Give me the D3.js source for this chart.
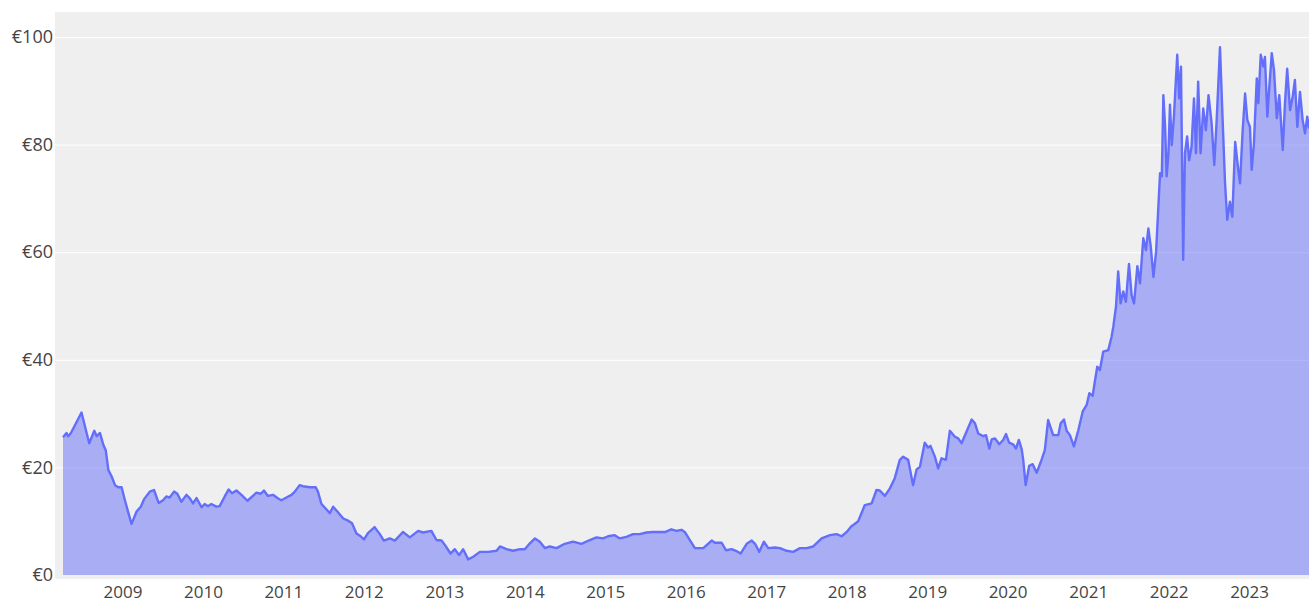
<!DOCTYPE html>
<html lang="en">
<head>
<meta charset="UTF-8">
<title>Price</title>
<script src="https://cdn.jsdelivr.net/npm/d3@7"></script>
<style>
  body { margin: 0; background: #fff; }
  svg { display: block; }
</style>
</head>
<body>
<div id="chart"></div>
<script>
// weekly-ish closing price
var dates = [
  "2008-04-06","2008-04-22","2008-04-29","2008-05-12","2008-06-29","2008-08-03","2008-08-26","2008-09-06","2008-09-21","2008-10-06",
  "2008-10-17","2008-10-29","2008-11-13","2008-11-28","2008-12-13","2008-12-28","2009-01-12","2009-01-24","2009-02-11","2009-03-06",
  "2009-03-25","2009-04-09","2009-05-05","2009-05-24","2009-06-14","2009-07-04","2009-07-19","2009-08-03","2009-08-23","2009-09-07",
  "2009-09-25","2009-10-18","2009-11-02","2009-11-17","2009-12-03","2009-12-26","2010-01-09","2010-01-24","2010-02-08","2010-03-03",
  "2010-03-18","2010-04-10","2010-04-28","2010-05-13","2010-06-02","2010-06-25","2010-07-22","2010-08-16","2010-09-01","2010-09-20",
  "2010-10-05","2010-10-23","2010-11-15","2010-12-05","2010-12-23","2011-01-15","2011-02-07","2011-02-22","2011-03-16","2011-03-31",
  "2011-05-01","2011-05-28","2011-06-07","2011-06-23","2011-07-11","2011-07-31","2011-08-15","2011-09-07","2011-09-30","2011-10-22",
  "2011-11-09","2011-11-29","2011-12-18","2012-01-02","2012-01-20","2012-02-19","2012-03-14","2012-04-01","2012-04-28","2012-05-21",
  "2012-06-27","2012-07-28","2012-09-04","2012-09-26","2012-11-03","2012-11-26","2012-12-19","2013-01-03","2013-01-29","2013-02-17",
  "2013-03-09","2013-03-27","2013-04-19","2013-05-12","2013-06-11","2013-07-19","2013-08-26","2013-09-10","2013-10-10","2013-11-09",
  "2013-12-10","2014-01-01","2014-01-24","2014-02-16","2014-03-10","2014-04-02","2014-04-24","2014-05-25","2014-07-01","2014-08-08",
  "2014-09-15","2014-10-23","2014-11-22","2014-12-22","2015-01-14","2015-02-13","2015-03-08","2015-04-07","2015-05-07","2015-06-06",
  "2015-07-07","2015-08-06","2015-09-05","2015-10-02","2015-10-28","2015-11-20","2015-12-13","2015-12-28","2016-01-20","2016-02-12",
  "2016-03-21","2016-04-28","2016-05-13","2016-06-12","2016-07-02","2016-07-28","2016-08-16","2016-09-07","2016-10-04","2016-10-27",
  "2016-11-11","2016-11-30","2016-12-21","2017-01-10","2017-02-09","2017-03-04","2017-04-03","2017-05-03","2017-06-03","2017-07-03",
  "2017-08-02","2017-09-09","2017-10-17","2017-11-16","2017-12-09","2018-01-01","2018-01-23","2018-01-31","2018-02-22","2018-03-24",
  "2018-04-24","2018-05-16","2018-05-31","2018-06-23","2018-07-16","2018-08-07","2018-08-30","2018-09-14","2018-10-07","2018-10-29",
  "2018-11-14","2018-11-29","2018-12-21","2019-01-05","2019-01-16","2019-02-05","2019-02-20","2019-03-07","2019-03-27","2019-04-14",
  "2019-05-07","2019-05-22","2019-06-06","2019-06-26","2019-07-22","2019-08-06","2019-08-21","2019-09-13","2019-09-25","2019-10-10",
  "2019-10-21","2019-11-05","2019-11-24","2019-12-12","2019-12-25","2020-01-08","2020-01-26","2020-02-08","2020-02-21","2020-03-05",
  "2020-03-12","2020-03-23","2020-04-08","2020-04-24","2020-05-12","2020-06-03","2020-06-18","2020-07-03","2020-07-26","2020-08-18",
  "2020-08-29","2020-09-13","2020-09-25","2020-10-10","2020-10-28","2020-11-17","2020-12-07","2020-12-25","2021-01-06","2021-01-21",
  "2021-02-01","2021-02-11","2021-02-23","2021-03-10","2021-04-02","2021-04-17","2021-04-25","2021-05-07","2021-05-17","2021-05-28",
  "2021-06-09","2021-06-21","2021-07-05","2021-07-17","2021-07-28","2021-08-12","2021-08-24","2021-09-08","2021-09-20","2021-10-01",
  "2021-10-12","2021-10-24","2021-11-05","2021-11-23","2021-12-01","2021-12-08","2021-12-16","2021-12-23","2021-12-31","2022-01-07",
  "2022-01-15","2022-01-25","2022-02-09","2022-02-18","2022-02-26","2022-03-08","2022-03-16","2022-03-26","2022-04-04","2022-04-15",
  "2022-04-26","2022-05-05","2022-05-15","2022-05-26","2022-06-07","2022-06-19","2022-07-01","2022-07-15","2022-07-27","2022-08-07",
  "2022-08-22","2022-09-03","2022-09-14","2022-09-24","2022-10-06","2022-10-17","2022-10-30","2022-11-13","2022-11-21","2022-12-03",
  "2022-12-14","2022-12-24","2023-01-05","2023-01-13","2023-01-23","2023-02-05","2023-02-12","2023-02-23","2023-03-07","2023-03-14",
  "2023-03-25","2023-04-03","2023-04-14","2023-04-24","2023-05-07","2023-05-18","2023-06-03","2023-06-13","2023-06-23","2023-07-06",
  "2023-07-18","2023-07-28","2023-08-08","2023-08-20","2023-09-01","2023-09-12","2023-09-22","2023-09-30"
];

var prices = [
  25.6,26.4,25.8,26.4,30.2,24.5,26.8,25.8,26.4,24.2,
  23.2,19.5,18.3,16.7,16.3,16.3,13.9,12.1,9.5,11.8,
  12.7,14.1,15.5,15.8,13.4,13.9,14.6,14.4,15.5,15.1,
  13.6,14.9,14.3,13.3,14.3,12.6,13.2,12.8,13.2,12.7,
  12.8,14.6,15.9,15.2,15.7,14.9,13.8,14.7,15.3,15.1,
  15.7,14.7,14.9,14.3,13.9,14.4,14.9,15.5,16.7,16.5,
  16.3,16.3,15.5,13.2,12.4,11.5,12.7,11.6,10.5,10.1,
  9.6,7.7,7.2,6.6,7.8,8.9,7.6,6.4,6.8,6.4,
  8.0,7.0,8.2,7.9,8.2,6.5,6.4,5.6,4.0,4.8,
  3.7,4.8,2.9,3.4,4.3,4.3,4.5,5.3,4.8,4.5,
  4.8,4.8,5.9,6.8,6.2,5.0,5.3,5.0,5.8,6.2,
  5.8,6.5,7.0,6.8,7.2,7.4,6.8,7.1,7.6,7.6,
  7.9,8.0,8.0,8.0,8.5,8.2,8.4,8.0,6.5,5.0,
  5.0,6.4,6.0,6.0,4.6,4.8,4.5,4.0,5.8,6.4,
  5.8,4.3,6.2,5.0,5.1,5.0,4.5,4.3,5.0,5.0,
  5.3,6.8,7.4,7.6,7.2,8.0,9.1,9.3,10.0,13.0,
  13.3,15.8,15.7,14.7,16.1,18.0,21.4,22.0,21.4,16.7,
  19.6,20.1,24.6,23.7,24.0,22.0,19.8,21.7,21.4,26.8,
  25.7,25.4,24.5,26.4,28.9,28.2,26.3,25.8,26.0,23.5,
  25.2,25.4,24.3,25.1,26.2,24.6,24.3,23.5,25.1,23.4,
  21.4,16.7,20.3,20.6,19.0,21.4,23.2,28.8,26.0,26.0,
  28.2,28.9,26.8,26.0,23.9,26.9,30.4,31.6,33.8,33.3,
  36.2,38.7,38.1,41.5,41.8,44.3,46.2,49.9,56.4,50.5,
  52.7,50.8,57.8,52.0,50.5,57.4,54.2,62.6,60.4,64.4,
  61.0,55.4,60.1,74.7,74.1,89.2,83.3,74.1,78.4,87.4,
  79.9,85.2,96.7,88.6,94.5,58.6,78.4,81.5,77.1,79.6,
  88.6,78.4,91.7,78.4,86.7,82.7,89.2,84.0,76.2,84.6,
  98.1,84.6,72.8,66.0,69.4,66.6,80.5,75.3,72.8,82.7,
  89.5,84.6,83.3,75.3,80.2,92.3,87.7,96.7,94.5,96.3,
  85.2,90.8,97.0,93.9,84.9,89.2,79.0,87.7,94.1,86.4,
  88.9,92.0,83.3,89.8,84.6,82.1,85.2,83.0
];

var yTicks = [0, 20, 40, 60, 80, 100];
var xTickYears = [2009, 2010, 2011, 2012, 2013, 2014, 2015, 2016, 2017, 2018, 2019, 2020, 2021, 2022, 2023];

var width = 1309, height = 604;
var parse = d3.timeParse("%Y-%m-%d");
var data = dates.map(function (d, i) { return { date: parse(d), value: prices[i] }; });

var svg = d3.select("#chart").append("svg")
  .attr("width", width)
  .attr("height", height);

var x = d3.scaleTime()
  .domain(d3.extent(data, function (d) { return d.date; }))
  .range([63, 1309]);

var y = d3.scaleLinear()
  .domain([0, 100])
  .range([575, 37]);

// plot background
svg.append("rect")
  .attr("x", 55).attr("y", 12)
  .attr("width", width - 55).attr("height", 567)
  .attr("fill", "#efefef");

// horizontal grid
svg.append("g")
  .selectAll("line")
  .data(yTicks.filter(function (t) { return t > 0; }))
  .join("line")
  .attr("x1", 55).attr("x2", width)
  .attr("y1", function (d) { return y(d) + 0.5; })
  .attr("y2", function (d) { return y(d) + 0.5; })
  .attr("stroke", "#fff")
  .attr("stroke-width", 1);

var area = d3.area()
  .x(function (d) { return x(d.date); })
  .y0(y(0))
  .y1(function (d) { return y(d.value); });

var line = d3.line()
  .x(function (d) { return x(d.date); })
  .y(function (d) { return y(d.value); });

svg.append("path")
  .datum(data)
  .attr("d", area)
  .attr("fill", "rgba(99,110,250,0.5)");

svg.append("path")
  .datum(data)
  .attr("d", line)
  .attr("fill", "none")
  .attr("stroke", "#636efa")
  .attr("stroke-width", 2.4)
  .attr("stroke-linejoin", "round");

// y axis labels
var yAxis = d3.axisLeft(y)
  .tickValues(yTicks)
  .tickSize(0)
  .tickPadding(0)
  .tickFormat(function (d) { return "€" + d; });

var gy = svg.append("g")
  .attr("transform", "translate(53,0)")
  .call(yAxis);
gy.select(".domain").remove();
gy.selectAll("text")
  .attr("fill", "#444")
  .style("font-family", "'Open Sans', sans-serif")
  .style("font-size", "18px");

// x axis labels
var xAxis = d3.axisBottom(x)
  .tickValues(xTickYears.map(function (yr) { return new Date(yr, 0, 1); }))
  .tickSize(0)
  .tickPadding(0)
  .tickFormat(d3.timeFormat("%Y"));

var gx = svg.append("g")
  .attr("transform", "translate(0,586)")
  .call(xAxis);
gx.select(".domain").remove();
gx.selectAll("text")
  .attr("fill", "#444")
  .style("font-family", "'Open Sans', sans-serif")
  .style("font-size", "17px");
</script>
</body>
</html>
